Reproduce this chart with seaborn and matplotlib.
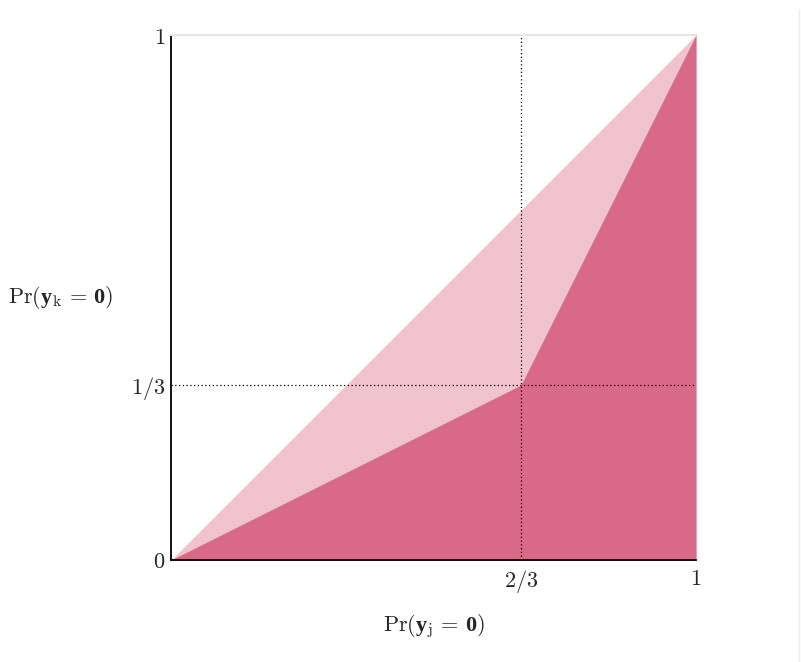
import numpy as np
import matplotlib
matplotlib.use("Agg")
import matplotlib.pyplot as plt
import seaborn as sns

# boundary of the light region (diagonal)
diag_x = [0, 1]
diag_y = [0, 1]

# boundary of the dark region
kink_x = [0, 2/3, 1]
kink_y = [0, 1/3, 1]

# reference lines
vline_x = 2/3
hline_y = 1/3

xticks = [0, 2/3, 1]
xticklabels = ["", "$2/3$", "$1$"]
yticks = [0, 1/3, 1]
yticklabels = ["$0$", "$1/3$", "$1$"]

light_color = "#f0c3cf"
dark_color = "#d96a87"

sns.set_theme(style="white")
plt.rcParams['mathtext.fontset'] = 'custom'
plt.rcParams['mathtext.rm'] = 'cmr10'
plt.rcParams['mathtext.it'] = 'cmmi10'
plt.rcParams['mathtext.bf'] = 'Liberation Serif:bold'
plt.rcParams['font.family'] = ['DejaVu Serif']

fig = plt.figure(figsize=(8.01, 6.62), dpi=100)
ax = fig.add_axes([171/801, 1 - 560/662, (696 - 171)/801, (560 - 35)/662])

# light region below the diagonal
ax.fill_between(diag_x, 0, diag_y, color=light_color, linewidth=0)
# dark region below the kinked line
ax.fill_between(kink_x, 0, kink_y, color=dark_color, linewidth=0)

ax.axvline(vline_x, color="black", linestyle=(0, (1, 2)), linewidth=0.9)
ax.axhline(hline_y, color="black", linestyle=(0, (1, 2)), linewidth=0.9)

ax.set_xlim(0, 1)
ax.set_ylim(0, 1)
ax.set_xticks(xticks)
ax.set_xticklabels(xticklabels, fontsize=16)
ax.set_yticks(yticks)
ax.set_yticklabels(yticklabels, fontsize=16)
ax.tick_params(length=0, pad=4)
ax.tick_params(axis="x", pad=6)

ax.set_xlabel(r"$\mathrm{Pr}(\mathbf{y}_{\mathrm{j}}\,=\,\mathbf{0})$", fontsize=16, labelpad=12)
ax.set_ylabel(r"$\mathrm{Pr}(\mathbf{y}_{\mathrm{k}}\,=\,\mathbf{0})$", fontsize=16,
              rotation=0, va="center", ha="center")
ax.yaxis.set_label_coords(-0.21, 0.5)

for side in ["left", "bottom"]:
    ax.spines[side].set_color("black")
    ax.spines[side].set_linewidth(1.3)
ax.spines["top"].set_color("#e6e6e6")
ax.spines["top"].set_linewidth(1.5)
ax.spines["right"].set_visible(False)

# faint frame line at the right edge of the figure
fig.add_artist(plt.Line2D([799/801, 799/801], [0, 1 - 10/662], transform=fig.transFigure,
                          color="#eeeeee", linewidth=1))

fig.savefig("out.png", dpi=100)
